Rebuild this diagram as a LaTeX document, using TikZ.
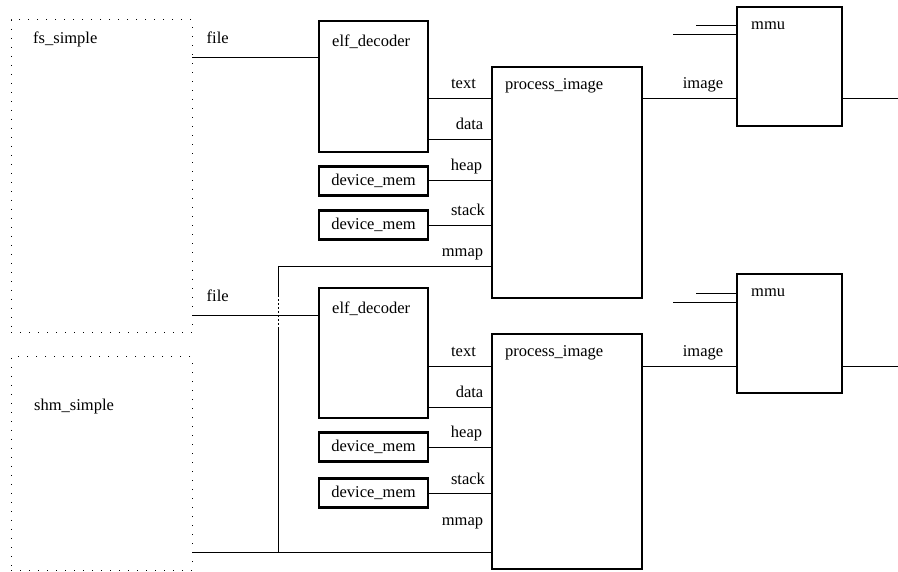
\documentclass[tikz,border=0pt]{standalone}
\usepackage{fontspec}
\setmainfont{Liberation Serif}
\begin{document}
\begin{tikzpicture}[x=1pt,y=-1pt,
  box/.style={draw=black,line width=2.4pt,inner sep=0pt,outer sep=0pt,rectangle},
  dotbox/.style={draw=black,line width=1pt,dash pattern=on 0.9pt off 8.1pt,inner sep=0pt,outer sep=0pt,rectangle},
  wire/.style={draw=black,line width=0.8pt},
  lbl/.style={inner sep=0pt,font=\fontsize{16.5}{18}\selectfont}]
\useasboundingbox (0,0) rectangle (898,572);
% containers
\node[dotbox,minimum width=181pt,minimum height=313pt] (fs) at (101.5,176.5) {};
\node[dotbox,minimum width=181pt,minimum height=213pt] (shm) at (101.5,463.5) {};
% upper group
\node[box,minimum width=109pt,minimum height=131pt] (elfA) at (373.5,86.5) {};
\node[box,minimum width=150pt,minimum height=231pt] (piA) at (567,182.5) {};
\node[box,minimum width=109pt,minimum height=29pt,font=\fontsize{16.5}{18}\selectfont] (dmA) at (373.5,181) {device\_mem};
\node[box,minimum width=109pt,minimum height=29pt,font=\fontsize{16.5}{18}\selectfont] (dmB) at (373.5,225) {device\_mem};
\node[box,minimum width=105pt,minimum height=119pt] (mmuA) at (789.5,66.5) {};
% lower group
\node[box,minimum width=109pt,minimum height=130pt] (elfB) at (373.5,353) {};
\node[box,minimum width=150pt,minimum height=235pt] (piB) at (567,451.5) {};
\node[box,minimum width=109pt,minimum height=29pt,font=\fontsize{16.5}{18}\selectfont] (dmC) at (373.5,447) {device\_mem};
\node[box,minimum width=109pt,minimum height=29pt,font=\fontsize{16.5}{18}\selectfont] (dmD) at (373.5,493) {device\_mem};
\node[box,minimum width=105pt,minimum height=119pt] (mmuB) at (789.5,333.5) {};
% free ends
\coordinate (yF1) at (0,57);
\coordinate (yF2) at (0,315);
\coordinate (jA) at (278,266);
\coordinate (jB) at (278,552);
\coordinate (jC1) at (278,295);
\coordinate (jC2) at (278,328);
\coordinate (outA) at (898,98);
\coordinate (outB) at (898,366);
\coordinate (sA1) at (696,25);
\coordinate (sA2) at (673,34);
\coordinate (sB1) at (696,293);
\coordinate (sB2) at (673,302);
% upper wires
\draw[wire] (yF1 -| fs.east) -- (yF1 -| elfA.west);
\draw[wire] (elfA.east |- 0,98) -- (piA.west |- 0,98);
\draw[wire] (elfA.east |- 0,139) -- (piA.west |- 0,139);
\draw[wire] (dmA.east |- 0,180) -- (piA.west |- 0,180);
\draw[wire] (dmB.east) -- (dmB.east -| piA.west);
\draw[wire] (jA) -- (jA -| piA.west);
\draw[wire] (piA.east |- outA) -- (mmuA.west |- outA);
\draw[wire] (mmuA.east |- outA) -- (outA);
\draw[wire] (sA1) -- (sA1 -| mmuA.west);
\draw[wire] (sA2) -- (sA2 -| mmuA.west);
% lower wires
\draw[wire] (yF2 -| fs.east) -- (yF2 -| elfB.west);
\draw[wire] (elfB.east |- 0,366) -- (piB.west |- 0,366);
\draw[wire] (elfB.east |- 0,407) -- (piB.west |- 0,407);
\draw[wire] (dmC.east) -- (dmC.east -| piB.west);
\draw[wire] (dmD.east) -- (dmD.east -| piB.west);
\draw[wire] (jB -| shm.east) -- (jB -| piB.west);
\draw[wire] (jA) -- (jC1);
\draw[wire,dash pattern=on 2pt off 2pt] (jC1) -- (jC2);
\draw[wire] (jC2) -- (jB);
\draw[wire] (piB.east |- outB) -- (mmuB.west |- outB);
\draw[wire] (mmuB.east |- outB) -- (outB);
\draw[wire] (sB1) -- (sB1 -| mmuB.west);
\draw[wire] (sB2) -- (sB2 -| mmuB.west);
% labels
\node[lbl,anchor=base west] (tfs) at (33,44) {fs\_simple};
\node[lbl,anchor=base west] (tshm) at (34,410) {shm\_simple};
\node[lbl,anchor=base west] (tfA) at (206.5,43.5) {file};
\node[lbl,anchor=base west] (tfB) at (206.5,301.5) {file};
\node[lbl,anchor=base west] (teA) at (332,46.5) {elf\_decoder};
\node[lbl,anchor=base west] (teB) at (332,314) {elf\_decoder};
\node[lbl,anchor=base west] (tpA) at (505,89.3) {process\_image};
\node[lbl,anchor=base west] (tpB) at (505,356.6) {process\_image};
\node[lbl,anchor=base west] (tmA) at (751,29.3) {mmu};
\node[lbl,anchor=base west] (tmB) at (751,297) {mmu};
\node[lbl,anchor=base] (tiA) at (703,88.3) {image};
\node[lbl,anchor=base] (tiB) at (703,356) {image};
% port labels upper
\node[lbl,anchor=base] (ptA) at (463.5,89) {text};
\node[lbl,anchor=base] (pdA) at (469.5,130) {data};
\node[lbl,anchor=base] (phA) at (466.5,171) {heap};
\node[lbl,anchor=base] (psA) at (468,216) {stack};
\node[lbl,anchor=base] (pmA) at (462.5,257) {mmap};
% port labels lower
\node[lbl,anchor=base] (ptB) at (463.5,357) {text};
\node[lbl,anchor=base] (pdB) at (469.5,398) {data};
\node[lbl,anchor=base] (phB) at (466.5,438) {heap};
\node[lbl,anchor=base] (psB) at (468,484) {stack};
\node[lbl,anchor=base] (pmB) at (462.5,525) {mmap};
\end{tikzpicture}
\end{document}
